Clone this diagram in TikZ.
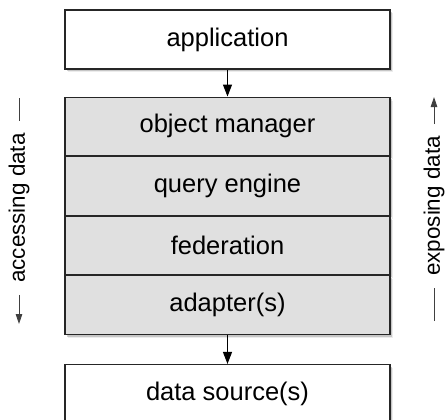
\documentclass[tikz,border=0pt]{standalone}
\usepackage{fontspec}
\setmainfont{Liberation Sans}
\usetikzlibrary{positioning,shadows,arrows.meta}

\begin{document}
\begin{tikzpicture}[x=1pt,y=1pt]
\tikzset{box/.style={draw=black!85, line width=1.1pt, fill=white, minimum width=325pt,
    minimum height=59pt, inner sep=0pt, font=\fontsize{25.5}{30}\selectfont,
    drop shadow={shadow xshift=3pt, shadow yshift=-3.5pt, opacity=0.15},
    drop shadow={shadow xshift=1.8pt, shadow yshift=-2.2pt, opacity=0.35}}}
\tikzset{layer/.style={box, fill=black!12, minimum height=58.5pt}}
\tikzset{side/.style={rotate=90, inner xsep=12pt, inner ysep=0pt, font=\fontsize{22.4}{26}\selectfont}}
\tikzset{flow/.style={-{Triangle[length=12pt,width=9pt]}, line width=1.1pt}}
\tikzset{thin flow/.style={-{Triangle[length=10pt,width=6.5pt]}, line width=0.8pt, draw=black!75}}
\useasboundingbox (0,0) rectangle (447,-420);
\node[box] (app) at (227.5,-39.5) {application};
\node[layer, below=27pt of app] (om) {object manager};
\node[layer, below=0pt of om] (qe) {query engine};
\node[layer, below=0pt of qe] (fed) {federation};
\node[layer, below=0pt of fed] (adp) {adapter(s)};
\node[box, below=29pt of adp] (src) {data source(s)};
\draw[flow] (app) -- (om);
\draw[flow] (adp) -- (src);
% side labels
\node[side] (acc) at (19,-208) {accessing data};
\coordinate (acc top) at (19,-98);
\coordinate (acc bot) at (19,-324);
\draw[line width=0.8pt, draw=black!75] (acc top) -- (acc);
\draw[thin flow] (acc) -- (acc bot);
\node[side] (exp) at (434,-206) {exposing data};
\coordinate (exp top) at (434,-97);
\coordinate (exp bot) at (434,-321);
\draw[thin flow] (exp) -- (exp top);
\draw[line width=0.8pt, draw=black!75] (exp bot) -- (exp);
\end{tikzpicture}
\end{document}
